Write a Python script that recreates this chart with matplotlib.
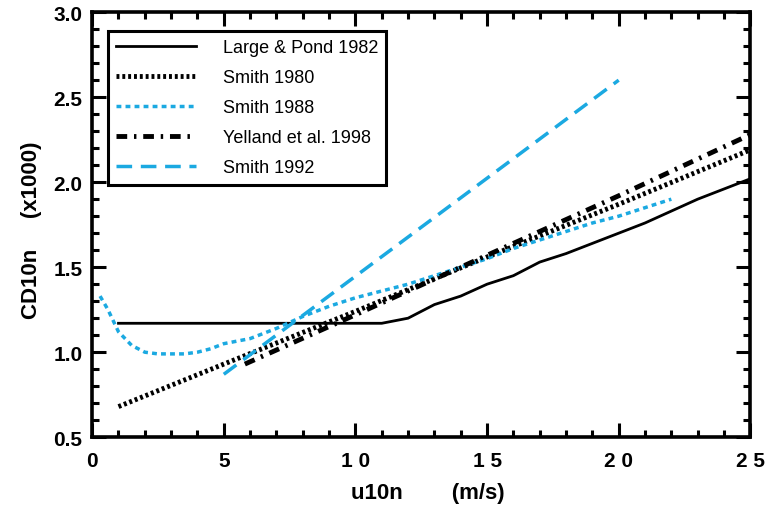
import numpy as np
import matplotlib
matplotlib.use("Agg")
import matplotlib.pyplot as plt
from matplotlib.ticker import MultipleLocator

# wind speed (m/s) vs drag coefficient (x1000)
lp_u = [1, 11, 12, 13, 14, 15, 16, 17, 18, 19, 20, 21, 22, 23, 24, 25]
lp_cd = [1.17, 1.17, 1.20, 1.28, 1.33, 1.40, 1.45, 1.53, 1.58, 1.64, 1.70, 1.76, 1.83, 1.90, 1.96, 2.02]

s80_u = [1, 5, 10, 15, 20, 25]
s80_cd = [0.68, 0.93, 1.24, 1.56, 1.87, 2.19]

s88_u = [0.3, 0.6, 1.0, 1.5, 2.0, 2.5, 3.0, 3.5, 4.0, 4.5, 5.0, 6.0, 7.0, 8.0, 9.0, 10.0,
         11.0, 12.0, 13.0, 14.0, 15.0, 16.0, 17.0, 18.0, 19.0, 20.0, 21.0, 22.0]
s88_cd = [1.33, 1.25, 1.12, 1.04, 1.00, 0.99, 0.99, 0.99, 1.00, 1.02, 1.05, 1.08, 1.14, 1.21, 1.27, 1.32,
          1.36, 1.40, 1.45, 1.50, 1.55, 1.61, 1.66, 1.71, 1.76, 1.80, 1.85, 1.90]

yel_u = [5.8, 10, 15, 20, 25]
yel_cd = [0.93, 1.22, 1.57, 1.92, 2.28]

s92_u = [5, 20]
s92_cd = [0.87, 2.60]

blue = "#1ba9e1"
font = "Liberation Sans"

fig = plt.figure(figsize=(7.68, 5.06), dpi=100)
ax = fig.add_axes([0.12, 0.134, 0.857, 0.84])

ax.plot(lp_u, lp_cd, color="black", lw=2.0, label="Large & Pond 1982")
ax.plot(s80_u, s80_cd, color="black", lw=3.5, linestyle=(0, (0.6, 0.6)), label="Smith 1980")
ax.plot(s88_u, s88_cd, color=blue, lw=2.5, linestyle=(0, (1.4, 1.2)), label="Smith 1988")
ax.plot(yel_u, yel_cd, color="black", lw=3.5, linestyle=(0, (2.2, 1.4, 0.5, 1.4)), label="Yelland et al. 1998")
ax.plot(s92_u, s92_cd, color=blue, lw=2.5, linestyle=(0, (4.5, 2.5)), label="Smith 1992")

ax.set_xlim(0, 25)
ax.set_ylim(0.5, 3.0)
ax.xaxis.set_minor_locator(MultipleLocator(1))
ax.yaxis.set_minor_locator(MultipleLocator(0.1))
ax.set_xticks([0, 5, 10, 15, 20, 25])
ax.set_xticklabels(["0", "5", "1 0", "1 5", "2 0", "2 5"])
ax.set_yticks([0.5, 1.0, 1.5, 2.0, 2.5, 3.0])
ax.set_yticklabels(["0.5", "1.0", "1.5", "2.0", "2.5", "3.0"])

ax.tick_params(which="both", direction="in", top=True, right=True, width=2.2)
ax.tick_params(which="major", length=10, labelsize=15)
ax.tick_params(which="minor", length=5)
ax.tick_params(axis="x", which="major", pad=10)
ax.tick_params(axis="y", which="major", pad=7)
for lab in ax.get_xticklabels() + ax.get_yticklabels():
    lab.set_fontweight("bold")
    lab.set_family(font)
for sp in ax.spines.values():
    sp.set_linewidth(2.6)

ax.set_xlabel("u10n        (m/s)", fontsize=16, fontweight="bold", family=font)
ax.xaxis.set_label_coords(0.51, -0.106)
ax.set_ylabel("CD10n     (x1000)", fontsize=16, fontweight="bold", family=font)
ax.yaxis.set_label_coords(-0.076, 0.49)

leg = ax.legend(loc="upper left", bbox_to_anchor=(0.0243, 0.955), borderaxespad=0,
                handlelength=4.4, handletextpad=1.5, borderpad=0.45, labelspacing=0.72,
                fancybox=False, edgecolor="black", framealpha=1,
                prop={"family": font, "size": 13})
leg.get_frame().set_linewidth(2.2)

fig.savefig("out.png", dpi=100)
